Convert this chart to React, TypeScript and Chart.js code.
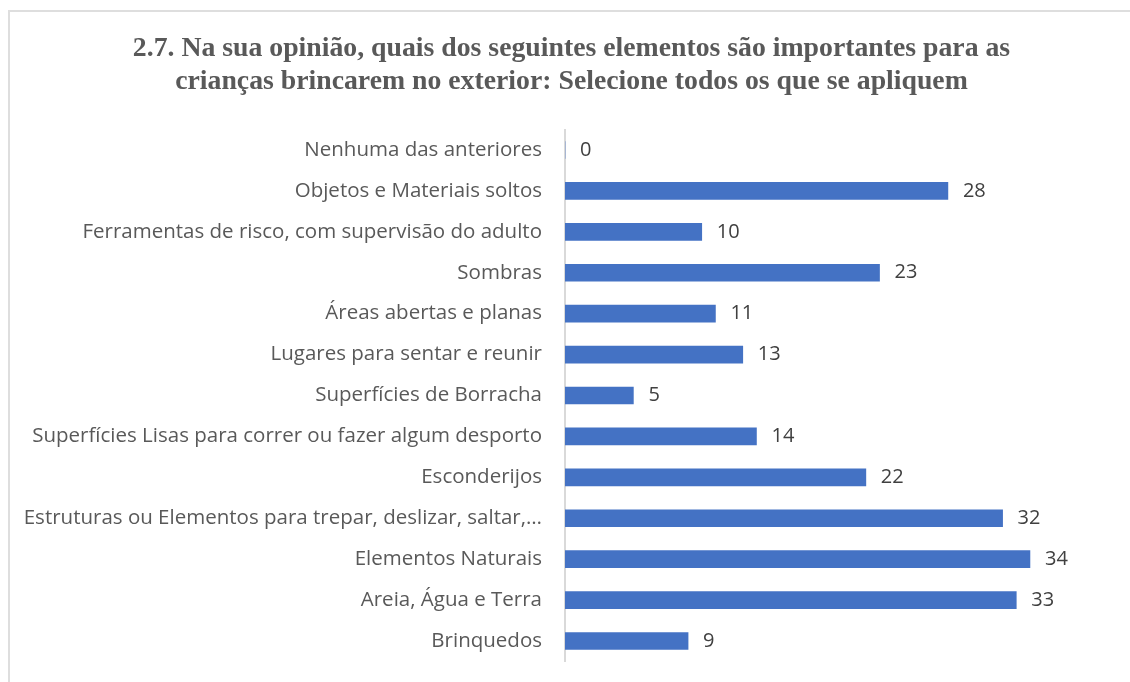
import React, { useEffect, useRef } from "react";
import { Chart, registerables } from "chart.js";

Chart.register(...registerables);

const categories = [
  "Nenhuma das anteriores",
  "Objetos e Materiais soltos",
  "Ferramentas de risco, com supervisão do adulto",
  "Sombras",
  "Áreas abertas e planas",
  "Lugares para sentar e reunir",
  "Superfícies de Borracha",
  "Superfícies Lisas para correr ou fazer algum desporto",
  "Esconderijos",
  "Estruturas ou Elementos para trepar, deslizar, saltar,…",
  "Elementos Naturais",
  "Areia, Água e Terra",
  "Brinquedos",
];
const counts = [0, 28, 10, 23, 11, 13, 5, 14, 22, 32, 34, 33, 9];
const titleLines = [
  "2.7. Na sua opinião, quais dos seguintes elementos são importantes para as",
  "crianças brincarem no exterior: Selecione todos os que se apliquem",
];

const LABEL_FONT = "'Open Sans', sans-serif";

const valueLabels = {
  id: "valueLabels",
  afterLayout(chart: any) {
    // widen the label clip region so long category labels are not cut
    chart.scales.y.left = 0;
  },
  afterDatasetsDraw(chart: any) {
    const ctx = chart.ctx;
    const meta = chart.getDatasetMeta(0);
    ctx.save();
    ctx.fillStyle = "#404040";
    ctx.font = `20px ${LABEL_FONT}`;
    ctx.textAlign = "left";
    ctx.textBaseline = "middle";
    meta.data.forEach((bar: any, i: number) => {
      const v = chart.data.datasets[0].data[i];
      ctx.fillText(String(v), bar.x + 15, bar.y);
    });
    ctx.restore();
  },
};

export default function App() {
  const ref = useRef<HTMLCanvasElement>(null);
  useEffect(() => {
    const chart = new Chart(ref.current!, {
      type: "bar",
      data: {
        labels: categories,
        datasets: [
          {
            data: counts,
            backgroundColor: "#4472C4",
            barThickness: 17,
          },
        ],
      },
      options: {
        indexAxis: "y",
        animation: false,
        responsive: false,
        maintainAspectRatio: false,
        layout: { padding: { left: 31, right: 18, top: 0, bottom: 20.5 } },
        plugins: {
          legend: { display: false },
          tooltip: { enabled: false },
          title: {
            display: true,
            text: titleLines,
            color: "#595959",
            font: { family: "'Liberation Serif', serif", size: 27.75, weight: "bold", lineHeight: 33 / 27.75 },
            padding: { top: 32, bottom: 31.5 },
          },
        },
        scales: {
          x: {
            display: false,
            min: 0,
            max: 40,
          },
          y: {
            grid: { display: false, drawTicks: false },
            border: { display: true, color: "#d9d9d9", width: 2 },
            ticks: {
              color: "#595959",
              font: { family: LABEL_FONT, size: 20.5 },
              padding: 23,
              autoSkip: false,
            },
            afterFit(scale: any) {
              scale.width = 565 - 31;
              scale.paddingTop = 0;
              scale.paddingBottom = 0;
            },
          },
        },
      },
      plugins: [valueLabels],
    });
    return () => chart.destroy();
  }, []);

  return (
    <div style={{ position: "fixed", left: 0, top: 0, width: 1130, height: 682, overflow: "hidden", background: "#fff" }}>
      <div
        style={{
          position: "absolute",
          left: 8,
          top: 10,
          width: 1300,
          height: 900,
          border: "2px solid #dedede",
          boxSizing: "border-box",
        }}
      />
      <canvas ref={ref} width={1130} height={682} style={{ position: "absolute", left: 0, top: 0 }} />
    </div>
  );
}
